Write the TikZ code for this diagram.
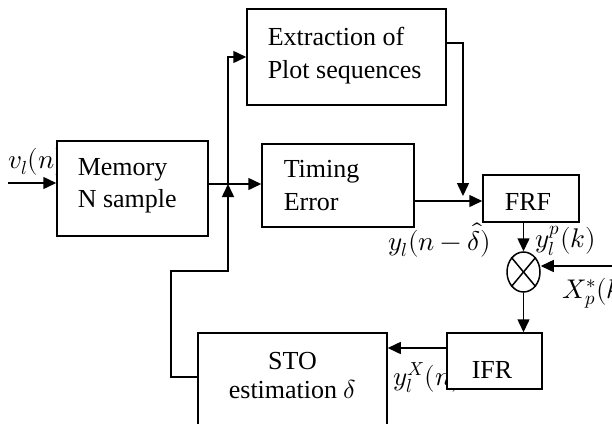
\documentclass[tikz,border=0pt]{standalone}
\usepackage{fontspec}
\usepackage{unicode-math}
\setmainfont{Liberation Serif}
\usetikzlibrary{arrows.meta,shapes.geometric}
\begin{document}
\begin{tikzpicture}[x=1pt,y=-1pt,
  line width=1.5pt,
  blk/.style={draw, fill=white, rectangle, inner sep=0pt, line width=1.5pt},
  txt/.style={font=\fontsize{26}{33}\selectfont, inner sep=0pt},
  mlab/.style={font=\fontsize{27}{33}\selectfont, inner sep=0pt, anchor=base west},
  arr/.style={-{Triangle[length=13pt,width=12pt]}}
]
\useasboundingbox (0,0) rectangle (612,423);
\clip (0,0) rectangle (612,423);
% labels that are partly covered
\node[mlab] (lv) at (8,168) {$v_l(n)$};
\node[mlab] (lyx) at (393,385) {$y_l^X(n)$};
\node[mlab] (lyd) at (388,250) {$y_l(n-\hat{\delta})$};
\node[mlab] (lyp) at (535,247) {$y_l^p(k)$};
\node[mlab] (lxp) at (562,298) {$X_p^*(k)$};
% boxes
\node[blk, minimum width=151, minimum height=95] (mem) at (132.5,188.5) {};
\node[blk, minimum width=199, minimum height=96] (ext) at (346.5,57) {};
\node[blk, minimum width=152, minimum height=83] (te) at (338,185.5) {};
\node[blk, minimum width=96, minimum height=47] (frf) at (531,198.5) {};
\node[blk, minimum width=95, minimum height=56] (ifr) at (494.5,361) {};
\node[blk, minimum width=189, minimum height=107] (sto) at (292.5,386.5) {};
\node[draw, ellipse, fill=white, minimum width=33, minimum height=40, inner sep=0pt] (mul) at (523.5,272) {};
\draw (mul.north west) -- (mul.south east);
\draw (mul.north east) -- (mul.south west);
% box texts
\node[txt, anchor=base west] (tm1) at (77,175) {Memory};
\node[txt, anchor=base west] (tm2) at (77,207) {N sample};
\node[txt, anchor=base west] (te1) at (267,45) {Extraction of};
\node[txt, anchor=base west] (te2) at (267,78) {Plot sequences};
\node[txt, anchor=base west] (tt1) at (283,177) {Timing};
\node[txt, anchor=base west] (tt2) at (283,210) {Error};
\node[txt, anchor=base] (tf) at (528,210) {FRF};
\node[txt, anchor=base] (ti) at (492,378) {IFR};
\node[txt, anchor=base] (ts1) at (292.5,369) {STO};
\node[txt, anchor=base] (ts2) at (292.5,398) {estimation $\delta$};
% coordinates
\coordinate (inL) at (8,183);
\coordinate (j1) at (228,184);
\coordinate (j2) at (463,201);
\coordinate (fb) at (171,271);
\coordinate (fbs) at (198,377);
\coordinate (xin) at (612,266);
\coordinate (ie) at (447,348);
% connectors
\draw[arr] (inL) -- (mem.west|-inL);
\draw[arr] (mem.east|-j1) -- (te.west|-j1);
\draw[arr] (j1) |- (ext.west);
\draw[arr] (fbs) -| (fb) -| (j1);
\draw[arr] (te.east|-j2) -- (frf.west|-j2);
\draw[arr, shorten >=5pt] (ext.east|-0,43) -| (j2);
\draw[arr] (mul.north|-frf.south) -- (mul.north);
\draw[arr] (xin) -- (mul.east|-xin);
\draw[arr] (mul.south) -- (mul.south|-ifr.north);
\draw[arr] (ie) -- (sto.east|-ie);
\end{tikzpicture}
\end{document}
